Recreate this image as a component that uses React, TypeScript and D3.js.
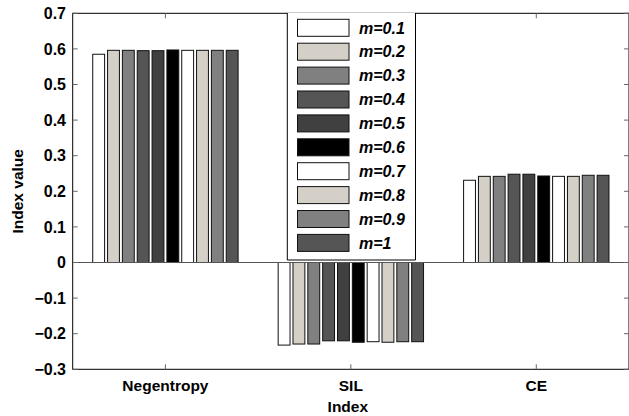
import React from 'react';
import * as d3 from 'd3';

// Index categories on the x axis
const categories = ['Negentropy', 'SIL', 'CE'];
// One series per fuzzifier value m
const seriesNames = ['m=0.1', 'm=0.2', 'm=0.3', 'm=0.4', 'm=0.5', 'm=0.6', 'm=0.7', 'm=0.8', 'm=0.9', 'm=1'];
const negentropyValues = [0.585, 0.596, 0.596, 0.595, 0.595, 0.597, 0.596, 0.596, 0.596, 0.596];
const silValues = [-0.232, -0.229, -0.229, -0.22, -0.22, -0.224, -0.2225, -0.224, -0.2225, -0.2225];
const ceValues = [0.231, 0.242, 0.242, 0.248, 0.248, 0.243, 0.242, 0.242, 0.245, 0.245];
const yTicks = [-0.3, -0.2, -0.1, 0, 0.1, 0.2, 0.3, 0.4, 0.5, 0.6, 0.7];
const seriesFills = ['#ffffff', '#d4d0c8', '#808080', '#555555', '#404040', '#000000', '#ffffff', '#d4d0c8', '#808080', '#555555'];

const W = 629;
const H = 416;
const plot = { left: 72.7, right: 629, top: 13.3, bottom: 369.3 };
const FONT = 'Liberation Sans, Arial, Helvetica, sans-serif';

export default function App() {
  const table = categories.map((c, ci) => ({
    category: c,
    values: [negentropyValues, silValues, ceValues][ci],
  }));

  const x = d3.scaleBand<string>().domain(categories).range([plot.left, plot.right]).padding(0);
  const y = d3.scaleLinear().domain([-0.3, 0.7]).range([plot.bottom, plot.top]);

  const groupW = x.bandwidth() * 0.8;
  const inner = d3.scaleBand<string>().domain(seriesNames).range([-groupW / 2, groupW / 2]).paddingInner(0.2).paddingOuter(0.1);

  const legend = { x0: 287.3, x1: 415.5, y0: 13, y1: 260 };
  const rowStep = 23.9;

  return (
    <svg width={W} height={H} style={{ position: 'fixed', left: 0, top: 0, background: '#fff' }} fontFamily={FONT}>
      <rect x={0} y={0} width={W} height={H} fill="#fff" />

      {/* bars */}
      {table.map((row) => {
        const cx = (x(row.category) as number) + x.bandwidth() / 2;
        return (
          <g key={row.category}>
            {row.values.map((v, i) => {
              const bx = cx + (inner(seriesNames[i]) as number);
              const y0 = y(Math.max(0, v));
              const h = Math.abs(y(v) - y(0));
              return (
                <rect key={i} x={bx} y={y0} width={inner.bandwidth()} height={h}
                  fill={seriesFills[i]} stroke="#111" strokeWidth={1} />
              );
            })}
          </g>
        );
      })}

      {/* zero baseline */}
      <line x1={plot.left} x2={plot.right} y1={y(0)} y2={y(0)} stroke="#555" strokeWidth={1} />

      {/* axes box */}
      <rect x={plot.left} y={plot.top} width={plot.right - plot.left} height={plot.bottom - plot.top}
        fill="none" stroke="#000" strokeWidth={1} />

      {/* y ticks, left and right */}
      {yTicks.map((t) => (
        <g key={t}>
          <line x1={plot.left} x2={plot.left + 5} y1={y(t)} y2={y(t)} stroke="#666" />
          <line x1={plot.right - 5} x2={plot.right} y1={y(t)} y2={y(t)} stroke="#666" />
          <text x={66} y={y(t)} dy="0.36em" textAnchor="end" fontSize={16} fontWeight="bold">
            {d3.format('')(Math.round(t * 10) / 10)}
          </text>
        </g>
      ))}

      {/* x ticks, bottom and top */}
      {categories.map((c) => {
        const cx = (x(c) as number) + x.bandwidth() / 2;
        return (
          <g key={c}>
            <line x1={cx} x2={cx} y1={plot.bottom} y2={plot.bottom - 5} stroke="#666" />
            <line x1={cx} x2={cx} y1={plot.top} y2={plot.top + 5} stroke="#666" />
            <text x={cx} y={391} textAnchor="middle" fontSize={15.5} fontWeight="bold">{c}</text>
          </g>
        );
      })}

      {/* axis titles */}
      <text x={(plot.left + plot.right) / 2 - 3} y={412} textAnchor="middle" fontSize={15.5} fontWeight="bold">Index</text>
      <text transform={`translate(23,${(plot.top + plot.bottom) / 2}) rotate(-90)`} textAnchor="middle"
        fontSize={15.5} fontWeight="bold">Index value</text>

      {/* legend */}
      <rect x={legend.x0} y={legend.y0} width={legend.x1 - legend.x0} height={legend.y1 - legend.y0} fill="#fff" stroke="none" />
      <path d={`M${legend.x0},${legend.y0}V${legend.y1}H${legend.x1}V${legend.y0}`} fill="none" stroke="#000" strokeWidth={1} />
      {seriesNames.map((s, i) => {
        const top = 19.3 + i * rowStep;
        return (
          <g key={s}>
            <rect x={297.5} y={top} width={51.5} height={17} fill={seriesFills[i]} stroke="#111" strokeWidth={1} />
            <text x={359} y={top + 8.5} dy="0.36em" fontSize={16} fontWeight="bold" fontStyle="italic">{s}</text>
          </g>
        );
      })}
    </svg>
  );
}
